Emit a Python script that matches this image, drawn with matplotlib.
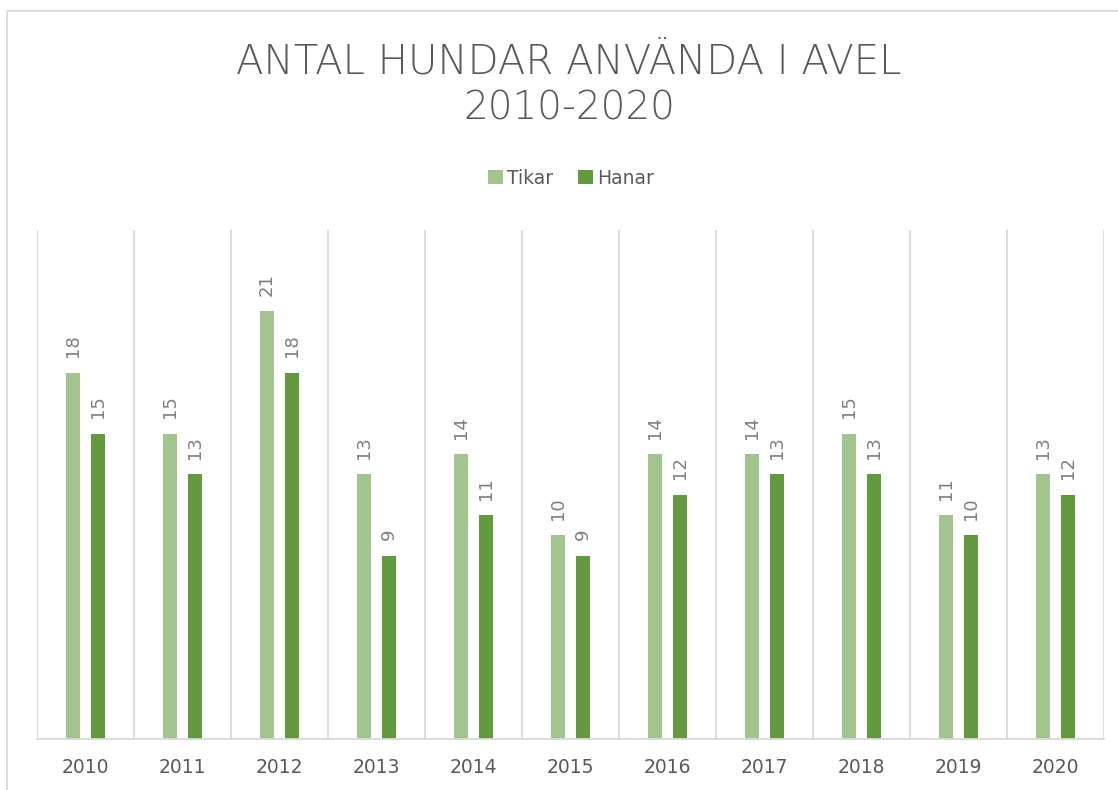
import matplotlib
matplotlib.use("Agg")
import matplotlib.pyplot as plt
import numpy as np
from matplotlib.patches import Rectangle

years = ["2010", "2011", "2012", "2013", "2014", "2015", "2016", "2017", "2018", "2019", "2020"]
tikar = [18, 15, 21, 13, 14, 10, 14, 14, 15, 11, 13]
hanar = [15, 13, 18, 9, 11, 9, 12, 13, 13, 10, 12]

c_tikar = "#A2C48E"
c_hanar = "#629A3D"
W, H = 1118, 790
fig = plt.figure(figsize=(W / 100, H / 100), dpi=100)
fig.patch.set_facecolor("white")

# outer chart border (cropped on right/bottom)
fig.add_artist(Rectangle((7 / W, -0.1), 1.2, 1 - 11 / H + 0.1, transform=fig.transFigure,
                         fill=False, edgecolor="#D9D9D9", linewidth=1.3))

left, right, bottom, top = 37, 1104, 739, 230
ax = fig.add_axes([left / W, 1 - bottom / H, (right - left) / W, (bottom - top) / H])
x = np.arange(len(years))
bw = 0.14
off = 0.13
b1 = ax.bar(x - off, tikar, bw, color=c_tikar, label="Tikar")
b2 = ax.bar(x + off, hanar, bw, color=c_hanar, label="Hanar")
ax.set_xlim(-0.5, len(years) - 0.5)
ax.set_ylim(0, 25)
ax.set_yticks([])
ax.set_xticks(x)
ax.set_xticklabels(years, color="#595959", fontsize=13.5)
ax.tick_params(axis="x", length=0, pad=14)
for xv in np.arange(-0.5, len(years) + 0.5, 1):
    ax.axvline(xv, color="#D9D9D9", linewidth=1.3, zorder=0)
for s in ["top", "right", "left"]:
    ax.spines[s].set_visible(False)
ax.spines["bottom"].set_color("#D9D9D9")
ax.spines["bottom"].set_linewidth(1.3)

for bars, vals in ((b1, tikar), (b2, hanar)):
    for r, v in zip(bars, vals):
        ax.annotate(str(v), (r.get_x() + r.get_width() / 2, v), xytext=(0, 11),
                    textcoords="offset points", rotation=90, ha="center", va="bottom",
                    color="#7F7F7F", fontsize=13)

fig.text(0.5 + 10 / W, 1 - 62 / H, "ANTAL HUNDAR ANVÄNDA I AVEL",
         ha="center", va="center", fontsize=29, color="#595959", fontweight="light")
fig.text(0.5 + 10 / W, 1 - 109 / H, "2010-2020", ha="center", va="center", fontsize=28,
         color="#595959", fontweight="light")

fig.legend(handles=[b1, b2], labels=["Tikar", "Hanar"], loc="center",
           bbox_to_anchor=(571 / W, 1 - 178 / H), ncol=2, frameon=False,
           fontsize=13.5, labelcolor="#595959", handlelength=0.8, handleheight=0.8,
           handletextpad=0.25, columnspacing=1.3)

fig.savefig("out.png", dpi=100, facecolor="white")
